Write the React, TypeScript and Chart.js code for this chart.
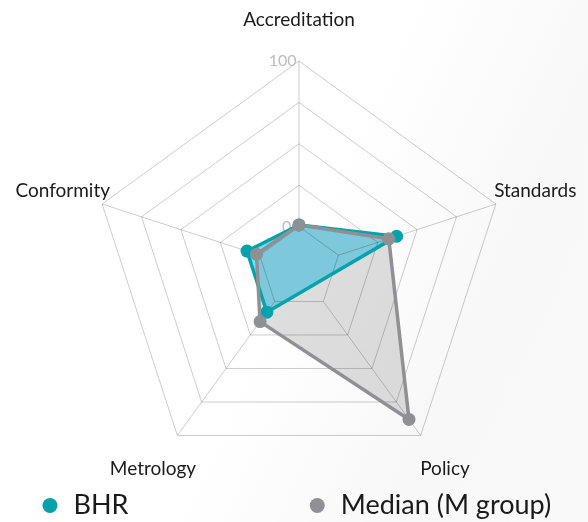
import React, { useEffect, useRef } from 'react';
import { Chart, registerables } from 'chart.js';

Chart.register(...registerables);

// ---- data ----
const categories = ['Accreditation', 'Standards', 'Policy', 'Metrology', 'Conformity'];
const bhrValues: (number | null)[] = [1, 37, null, 8, 8];
const medianValues: number[] = [1, 32, 88, 15, 2];
const seriesNames = ['BHR', 'Median (M group)'];
const labelledTicks = ['0', '100'];
const scaleMin = -25;
const scaleMax = 100;
const scaleStep = 25;

// ---- styles ----
const TEAL = '#00a2ac';
const TEAL_FILL = 'rgb(119,224,250)';
const GREY = '#8e9094';
const GREY_FILL = 'rgba(140,142,146,0.29)';
const GRID = 'rgba(0,0,0,0.2)';
const FONT = 'Lato';
const LABEL_RADIUS_VALUE = 125;

function padTo(ctx: CanvasRenderingContext2D, text: string, target: number) {
  const w = ctx.measureText(text).width;
  const sp = ctx.measureText(' ').width;
  const n = Math.max(0, Math.round((target - w) / sp));
  return text + ' '.repeat(n);
}

export default function App() {
  const ref = useRef<HTMLCanvasElement>(null);

  useEffect(() => {
    document.body.style.margin = '0';
    let chart: Chart | null = null;
    let cancelled = false;

    const make = () => {
      if (cancelled || !ref.current) return;
      const mctx = document.createElement('canvas').getContext('2d')!;
      mctx.font = `27px ${FONT}`;
      const legendTargets = [224.8, 216.8];

      const angleLines = {
        id: 'angleLinesFromZero',
        beforeDatasetsDraw(c: any) {
          const s = c.scales.r;
          const ctx = c.ctx;
          ctx.save();
          ctx.strokeStyle = GRID;
          ctx.lineWidth = 1;
          for (let i = 0; i < categories.length; i++) {
            const a = s.getPointPositionForValue(i, 0);
            const b = s.getPointPositionForValue(i, scaleMax);
            ctx.beginPath();
            ctx.moveTo(a.x, a.y);
            ctx.lineTo(b.x, b.y);
            ctx.stroke();
          }
          ctx.restore();
        },
      };

      const pointLabels = {
        id: 'centeredPointLabels',
        afterDatasetsDraw(c: any) {
          const s = c.scales.r;
          const ctx = c.ctx;
          ctx.save();
          ctx.font = `19px ${FONT}`;
          ctx.fillStyle = '#1a1a1a';
          ctx.textAlign = 'center';
          ctx.textBaseline = 'middle';
          categories.forEach((lab, i) => {
            const p = s.getPointPositionForValue(i, LABEL_RADIUS_VALUE);
            ctx.fillText(lab, p.x, p.y);
          });
          ctx.restore();
        },
      };

      chart = new Chart(ref.current, {
        type: 'radar',
        data: {
          labels: categories,
          datasets: [
            {
              label: seriesNames[0],
              data: bhrValues,
              order: 1,
              spanGaps: true,
              fill: 'start',
              backgroundColor: TEAL_FILL,
              borderColor: TEAL,
              borderWidth: 3.5,
              pointBackgroundColor: TEAL,
              pointBorderColor: TEAL,
              pointBorderWidth: 0,
              pointRadius: 6.5,
            },
            {
              label: seriesNames[1],
              data: medianValues,
              order: 0,
              fill: 'start',
              backgroundColor: GREY_FILL,
              borderColor: GREY,
              borderWidth: 3.5,
              pointBackgroundColor: GREY,
              pointBorderColor: GREY,
              pointBorderWidth: 0,
              pointRadius: 6.5,
            },
          ],
        },
        options: {
          responsive: false,
          animation: false,
          layout: { padding: { left: 10, right: 0, top: 51, bottom: -7 } },
          elements: { line: { tension: 0 } },
          scales: {
            r: {
              min: scaleMin,
              max: scaleMax,
              beginAtZero: false,
              grid: { color: GRID, lineWidth: 1, circular: false },
              angleLines: { display: false },
              pointLabels: { display: false },
              ticks: {
                stepSize: scaleStep,
                showLabelBackdrop: false,
                color: '#bdbdbd',
                font: { family: FONT, size: 16 },
                callback: (v: any) => {
                  const s = String(v);
                  if (!labelledTicks.includes(s)) return '';
                  return s === '100' ? s + ' '.repeat(8) : s + ' '.repeat(6);
                },
              },
            },
          },
          plugins: {
            tooltip: { enabled: false },
            filler: { drawTime: 'beforeDraw' },
            legend: {
              position: 'bottom',
              labels: {
                usePointStyle: true,
                pointStyle: 'circle',
                boxWidth: 20,
                boxHeight: 10.6,
                padding: 6,
                color: '#1a1a1a',
                font: { family: FONT, size: 27 },
                generateLabels: (c: any) => {
                  const items = Chart.defaults.plugins.legend.labels.generateLabels(c);
                  items.sort((a: any, b: any) => a.datasetIndex - b.datasetIndex);
                  return items.map((it: any) => ({
                    ...it,
                    text: padTo(mctx, it.text, legendTargets[it.datasetIndex]),
                  }));
                },
              },
            },
          },
        },
        plugins: [angleLines, pointLabels],
      } as any);
    };

    if ((document as any).fonts && (document as any).fonts.load) {
      Promise.all([
        (document as any).fonts.load(`27px ${FONT}`),
        (document as any).fonts.load(`19px ${FONT}`),
      ]).then(make, make);
    } else {
      make();
    }

    return () => {
      cancelled = true;
      if (chart) chart.destroy();
    };
  }, []);

  return (
    <div
      style={{
        width: 588,
        height: 522,
        background: 'linear-gradient(115deg, #ffffff 0%, #ffffff 50%, #f8f8f8 75%, #f9f9f9 100%)',
      }}
    >
      <canvas ref={ref} width={588} height={522} style={{ display: 'block' }} />
    </div>
  );
}
